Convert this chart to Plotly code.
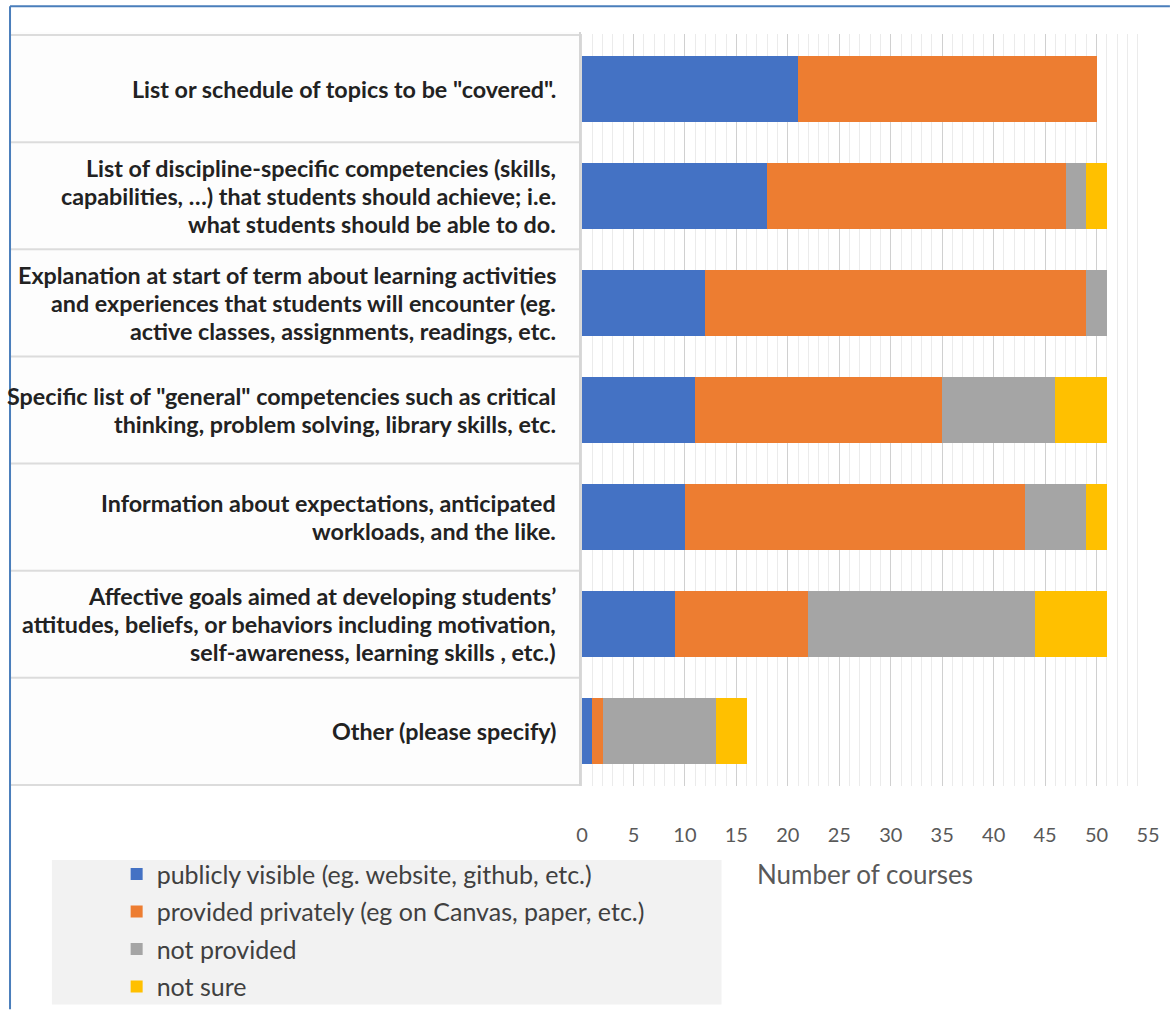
import plotly.graph_objects as go

# ---------------- data ----------------
categories = [
    "List or schedule of topics",
    "Discipline-specific competencies",
    "Learning activities explanation",
    "General competencies",
    "Expectations and workloads",
    "Affective goals",
    "Other",
]
label_lines = [
    ['List or schedule of topics to be "covered".'],
    ["List of discipline-specific competencies (skills,",
     "capabilities, \u2026) that students should achieve; i.e.",
     "what students should be able to do."],
    ["Explanation at start of term about learning activities",
     "and experiences that students will encounter (eg.",
     "active classes, assignments, readings, etc."],
    ['Specific list of "general" competencies such as critical',
     "thinking, problem solving, library skills, etc."],
    ["Information about expectations, anticipated",
     "workloads, and the like."],
    ["Affective goals aimed at developing students\u2019",
     "attitudes, beliefs, or behaviors including motivation,",
     "self-awareness, learning skills , etc.)"],
    ["Other (please specify)"],
]
series_names = [
    "publicly visible (eg. website, github, etc.)",
    "provided privately (eg on Canvas, paper, etc.)",
    "not provided",
    "not sure",
]
publicly_visible = [21, 18, 12, 11, 10, 9, 1]
provided_privately = [29, 29, 37, 24, 33, 13, 1]
not_provided = [0, 2, 2, 11, 6, 22, 11]
not_sure = [0, 2, 0, 5, 2, 7, 3]
series_values = [publicly_visible, provided_privately, not_provided, not_sure]
colors = ["#4472C4", "#ED7D31", "#A5A5A5", "#FFC000"]
tick_values = [0, 5, 10, 15, 20, 25, 30, 35, 40, 45, 50, 55]

# ---------------- layout helpers ----------------
W, H = 1172, 1021
PL, PR, PT, PB = 582, 1150, 34, 795


def px2x(px):
    return (px - PL) / (PR - PL)


def py2y(py):
    return (PB - py) / (PB - PT)


FONT = "Lato, Carlito, Calibri, 'Noto Sans', sans-serif"

fig = go.Figure()
for name, vals, col in zip(series_names, series_values, colors):
    fig.add_trace(go.Bar(
        y=categories, x=vals, name=name, orientation="h",
        marker=dict(color=col, line=dict(width=0)),
        legendgroup=name,
    ))

annotations = []
for cat, lines in zip(categories, label_lines):
    n = len(lines)
    for i, line in enumerate(lines):
        annotations.append(dict(
            xref="paper", yref="y", x=px2x(558), y=cat,
            text="<b>" + line + "</b>", showarrow=False,
            xanchor="right", yanchor="middle",
            yshift=((n - 1) / 2 - i) * 28,
            font=dict(family=FONT, size=23.3, color="#222222"),
        ))

shapes = []
# label table background
shapes.append(dict(type="rect", xref="paper", yref="paper", layer="below",
                   x0=px2x(8), x1=px2x(580), y0=py2y(795), y1=py2y(32),
                   fillcolor="#fdfdfd", line=dict(width=0)))
# row separators of the label table
for k in range(len(categories) + 1):
    shapes.append(dict(type="line", xref="paper", yref="y",
                       x0=px2x(8), x1=px2x(580), y0=k - 0.5, y1=k - 0.5,
                       line=dict(color="#dcdcdc", width=2)))
# right edge of label table
shapes.append(dict(type="line", xref="paper", yref="paper",
                   x0=px2x(580), x1=px2x(580), y0=py2y(795), y1=py2y(32),
                   line=dict(color="#d6d6d6", width=2)))
# legend box
shapes.append(dict(type="rect", xref="paper", yref="paper", layer="below",
                   x0=px2x(50), x1=px2x(722), y0=py2y(1016), y1=py2y(870),
                   fillcolor="#f2f2f2", line=dict(width=0)))
# outer blue frame (top and left)
shapes.append(dict(type="line", xref="paper", yref="paper",
                   x0=px2x(8), x1=px2x(1172), y0=py2y(6), y1=py2y(6),
                   line=dict(color="#4A7EBB", width=2)))
shapes.append(dict(type="line", xref="paper", yref="paper",
                   x0=px2x(8), x1=px2x(8), y0=py2y(6), y1=py2y(1021),
                   line=dict(color="#4A7EBB", width=2)))

fig.update_layout(
    width=W, height=H, autosize=False,
    margin=dict(l=PL, r=W - PR, t=PT, b=H - PB, pad=0),
    paper_bgcolor="white", plot_bgcolor="white",
    barmode="stack", bargap=0.385,
    font=dict(family=FONT, color="#595959"),
    annotations=annotations, shapes=shapes,
    legend=dict(
        orientation="v", x=px2x(115), y=py2y(861),
        xanchor="left", yanchor="top",
        bgcolor="rgba(0,0,0,0)", traceorder="grouped",
        tracegroupgap=2,
        font=dict(family=FONT, size=25, color="#404040"),
    ),
    showlegend=True,
)
fig.update_xaxes(
    range=[0, 55], tickvals=tick_values, ticktext=[str(v) for v in tick_values],
    showgrid=True, gridcolor="#d0d0d0", gridwidth=1,
    minor=dict(dtick=1, showgrid=True, gridcolor="#ebebeb", gridwidth=1),
    zeroline=False, showline=False, ticks="",
    tickfont=dict(family=FONT, size=20, color="#595959"),
    ticklabelstandoff=35,
    title=dict(text="Number of courses", standoff=20,
               font=dict(family=FONT, size=26, color="#595959")),
)
fig.update_yaxes(
    categoryorder="array", categoryarray=categories, autorange="reversed",
    showticklabels=False, showgrid=False, zeroline=False,
    showline=True, linecolor="#d9d9d9", linewidth=1, ticks="",
)

fig.write_html("out.html")
